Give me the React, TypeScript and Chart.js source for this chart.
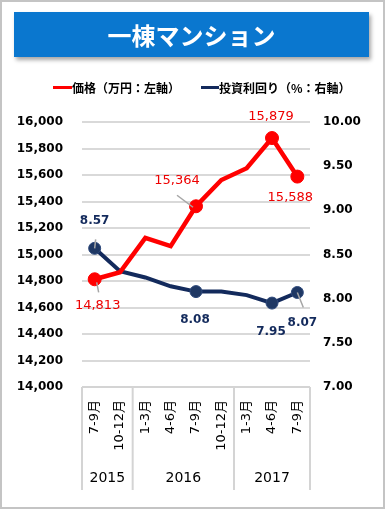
import React, { useEffect, useRef } from "react";
import { Chart, registerables } from "chart.js";

Chart.register(...registerables);

const categories = ["7-9月", "10-12月", "1-3月", "4-6月", "7-9月", "10-12月", "1-3月", "4-6月", "7-9月"];
const years = ["2015", "2016", "2017"];
const yearSpans = [2, 4, 3];
const priceValues = [14813, 14866, 15126, 15063, 15364, 15562, 15651, 15879, 15588];
const yieldValues = [8.57, 8.31, 8.24, 8.14, 8.08, 8.08, 8.04, 7.95, 8.07];
const priceLabelIdx = [0, 4, 7, 8];
const yieldLabelIdx = [0, 4, 7, 8];
const priceTickMin = 14000;
const priceTickMax = 16000;
const priceTickStep = 200;
const yieldTickMin = 7;
const yieldTickMax = 10;
const yieldTickStep = 0.5;

const RED = "#ff0000";
const LABEL_RED = "#ee0000";
const NAVY = "#132a5c";
const FONT = "'DejaVu Sans', 'Noto Sans CJK JP', sans-serif";

// label offsets relative to point (style)
const priceLabelOffsets: Record<number, [number, number]> = {
  0: [3, 26],
  4: [-19, -26],
  7: [-1, -21],
  8: [-7, 21],
};
const yieldLabelOffsets: Record<number, [number, number]> = {
  0: [0, -27],
  4: [-1, 28],
  7: [-1, 29],
  8: [5, 30],
};
const priceLeaders: Record<number, [number, number, number, number]> = {
  0: [2, 3, 4, 13],
  4: [-19, -11, -3, 1],
};
const yieldLeaders: Record<number, [number, number, number, number]> = {
  0: [1, -9, 0, 0],
  8: [0, 0, 6, 15],
};

function fmtPrice(v: number) {
  return v.toLocaleString("en-US");
}

const overlayPlugin = {
  id: "overlay",
  afterDatasetsDraw(chart: any) {
    const ctx = chart.ctx;
    const m0 = chart.getDatasetMeta(0);
    const m1 = chart.getDatasetMeta(1);
    ctx.save();
    ctx.strokeStyle = "#a6a6a6";
    ctx.lineWidth = 1.5;
    const drawLeader = (meta: any, leaders: any) => {
      Object.keys(leaders).forEach((k) => {
        const i = Number(k);
        const p = meta.data[i];
        const [a, b, c, d] = leaders[i];
        ctx.beginPath();
        ctx.moveTo(p.x + a, p.y + b);
        ctx.lineTo(p.x + c, p.y + d);
        ctx.stroke();
      });
    };
    drawLeader(m0, priceLeaders);
    drawLeader(m1, yieldLeaders);

    ctx.textAlign = "center";
    ctx.textBaseline = "middle";
    ctx.fillStyle = LABEL_RED;
    ctx.font = `13px ${FONT}`;
    priceLabelIdx.forEach((i) => {
      const p = m0.data[i];
      const [dx, dy] = priceLabelOffsets[i];
      ctx.fillText(fmtPrice(priceValues[i]), p.x + dx, p.y + dy);
    });
    ctx.fillStyle = NAVY;
    ctx.font = `bold 12px ${FONT}`;
    yieldLabelIdx.forEach((i) => {
      const p = m1.data[i];
      const [dx, dy] = yieldLabelOffsets[i];
      ctx.fillText(yieldValues[i].toFixed(2), p.x + dx, p.y + dy);
    });
    ctx.restore();
  },
  afterDraw(chart: any) {
    const ctx = chart.ctx;
    const xs = chart.scales.x;
    const area = chart.chartArea;
    const step = (area.right - area.left) / categories.length;
    const bottom = area.bottom + 103;
    ctx.save();
    ctx.strokeStyle = "#d4d4d4";
    ctx.lineWidth = 2;
    ctx.beginPath();
    ctx.moveTo(area.left, area.bottom);
    ctx.lineTo(area.right, area.bottom);
    ctx.stroke();
    let acc = 0;
    const bounds = [0];
    yearSpans.forEach((s) => {
      acc += s;
      bounds.push(acc);
    });
    bounds.forEach((b) => {
      const x = area.left + b * step;
      ctx.beginPath();
      ctx.moveTo(x, area.bottom);
      ctx.lineTo(x, bottom);
      ctx.stroke();
    });
    ctx.fillStyle = "#000";
    ctx.font = `13px ${FONT}`;
    ctx.textAlign = "right";
    ctx.textBaseline = "middle";
    categories.forEach((c, i) => {
      const x = xs.getPixelForValue(i);
      ctx.save();
      ctx.translate(x, area.bottom + 13);
      ctx.rotate(-Math.PI / 2);
      ctx.fillText(c, 0, 0);
      ctx.restore();
    });
    ctx.font = `14px ${FONT}`;
    ctx.textAlign = "center";
    years.forEach((y, j) => {
      const x = area.left + ((bounds[j] + bounds[j + 1]) / 2) * step;
      ctx.fillText(y, x, area.bottom + 91);
    });
    ctx.restore();
  },
};

export default function App() {
  const ref = useRef<HTMLCanvasElement>(null);
  useEffect(() => {
    if (!ref.current) return;
    const chart = new Chart(ref.current, {
      type: "line",
      data: {
        labels: categories,
        datasets: [
          {
            label: "価格（万円：左軸）",
            data: priceValues,
            borderColor: RED,
            backgroundColor: RED,
            borderWidth: 4.5,
            pointRadius: priceValues.map((_, i) => (priceLabelIdx.includes(i) ? 6.5 : 0)),
            pointBackgroundColor: RED,
            pointBorderColor: RED,
            pointBorderWidth: 1,
            yAxisID: "y",
            tension: 0,
          },
          {
            label: "投資利回り（%：右軸）",
            data: yieldValues,
            borderColor: NAVY,
            backgroundColor: NAVY,
            borderWidth: 4,
            pointRadius: yieldValues.map((_, i) => (yieldLabelIdx.includes(i) ? 6 : 0)),
            pointBackgroundColor: "#1f3864",
            pointBorderColor: "#2f4a7c",
            pointBorderWidth: 1,
            yAxisID: "y1",
            tension: 0,
          },
        ],
      },
      options: {
        responsive: false,
        animation: false,
        devicePixelRatio: 1,
        layout: { padding: { top: 122, bottom: 122, left: 0, right: 0 } },
        plugins: { legend: { display: false }, tooltip: { enabled: false } },
        scales: {
          x: {
            display: false,
            offset: true,
          },
          y: {
            position: "left",
            min: priceTickMin,
            max: priceTickMax,
            afterFit: (s: any) => {
              s.width = 82;
            },
            ticks: {
              stepSize: priceTickStep,
              padding: 19,
              color: "#000",
              font: { family: FONT, size: 12, weight: "bold" },
              callback: (v: any) => fmtPrice(Number(v)),
            },
            grid: { color: "#d9d9d9", lineWidth: 2, drawTicks: false },
            border: { display: false },
          },
          y1: {
            position: "right",
            min: yieldTickMin,
            max: yieldTickMax,
            afterFit: (s: any) => {
              s.width = 75;
            },
            ticks: {
              stepSize: yieldTickStep,
              padding: 13,
              color: "#000",
              font: { family: FONT, size: 12, weight: "bold" },
              callback: (v: any) => Number(v).toFixed(2),
            },
            grid: { drawOnChartArea: false, drawTicks: false },
            border: { display: false },
          },
        },
      },
      plugins: [overlayPlugin],
    } as any);
    return () => chart.destroy();
  }, []);

  const legendText: React.CSSProperties = {
    position: "absolute",
    top: 78,
    fontFamily: "'Noto Sans CJK JP', sans-serif",
    fontWeight: "bold",
    fontSize: 12,
    lineHeight: "16px",
    color: "#000",
    whiteSpace: "nowrap",
  };

  return (
    <div
      style={{
        position: "absolute",
        left: 0,
        top: 0,
        width: 385,
        height: 509,
        background: "#fff",
        border: "2px solid #c4c4c4",
        boxSizing: "border-box",
        overflow: "hidden",
      }}
    >
      <canvas
        ref={ref}
        width={385}
        height={509}
        style={{ position: "absolute", left: -2, top: -2, display: "block" }}
      />
      <div
        style={{
          position: "absolute",
          left: 12,
          top: 10,
          width: 355,
          height: 45,
          background: "#0a77cf",
          boxShadow: "2px 3px 4px rgba(0,0,0,0.35)",
          color: "#fff",
          fontFamily: "'Noto Sans CJK JP', sans-serif",
          fontWeight: "bold",
          fontSize: 24,
          lineHeight: "45px",
          textAlign: "center",
        }}
      >
        一棟マンション
      </div>
      <div style={{ position: "absolute", left: 51, top: 84, width: 19, height: 3, background: RED }} />
      <div style={{ ...legendText, left: 70 }}>価格（万円：左軸）</div>
      <div style={{ position: "absolute", left: 199, top: 84, width: 18, height: 3, background: NAVY }} />
      <div style={{ ...legendText, left: 217 }}>投資利回り（%：右軸）</div>
    </div>
  );
}
